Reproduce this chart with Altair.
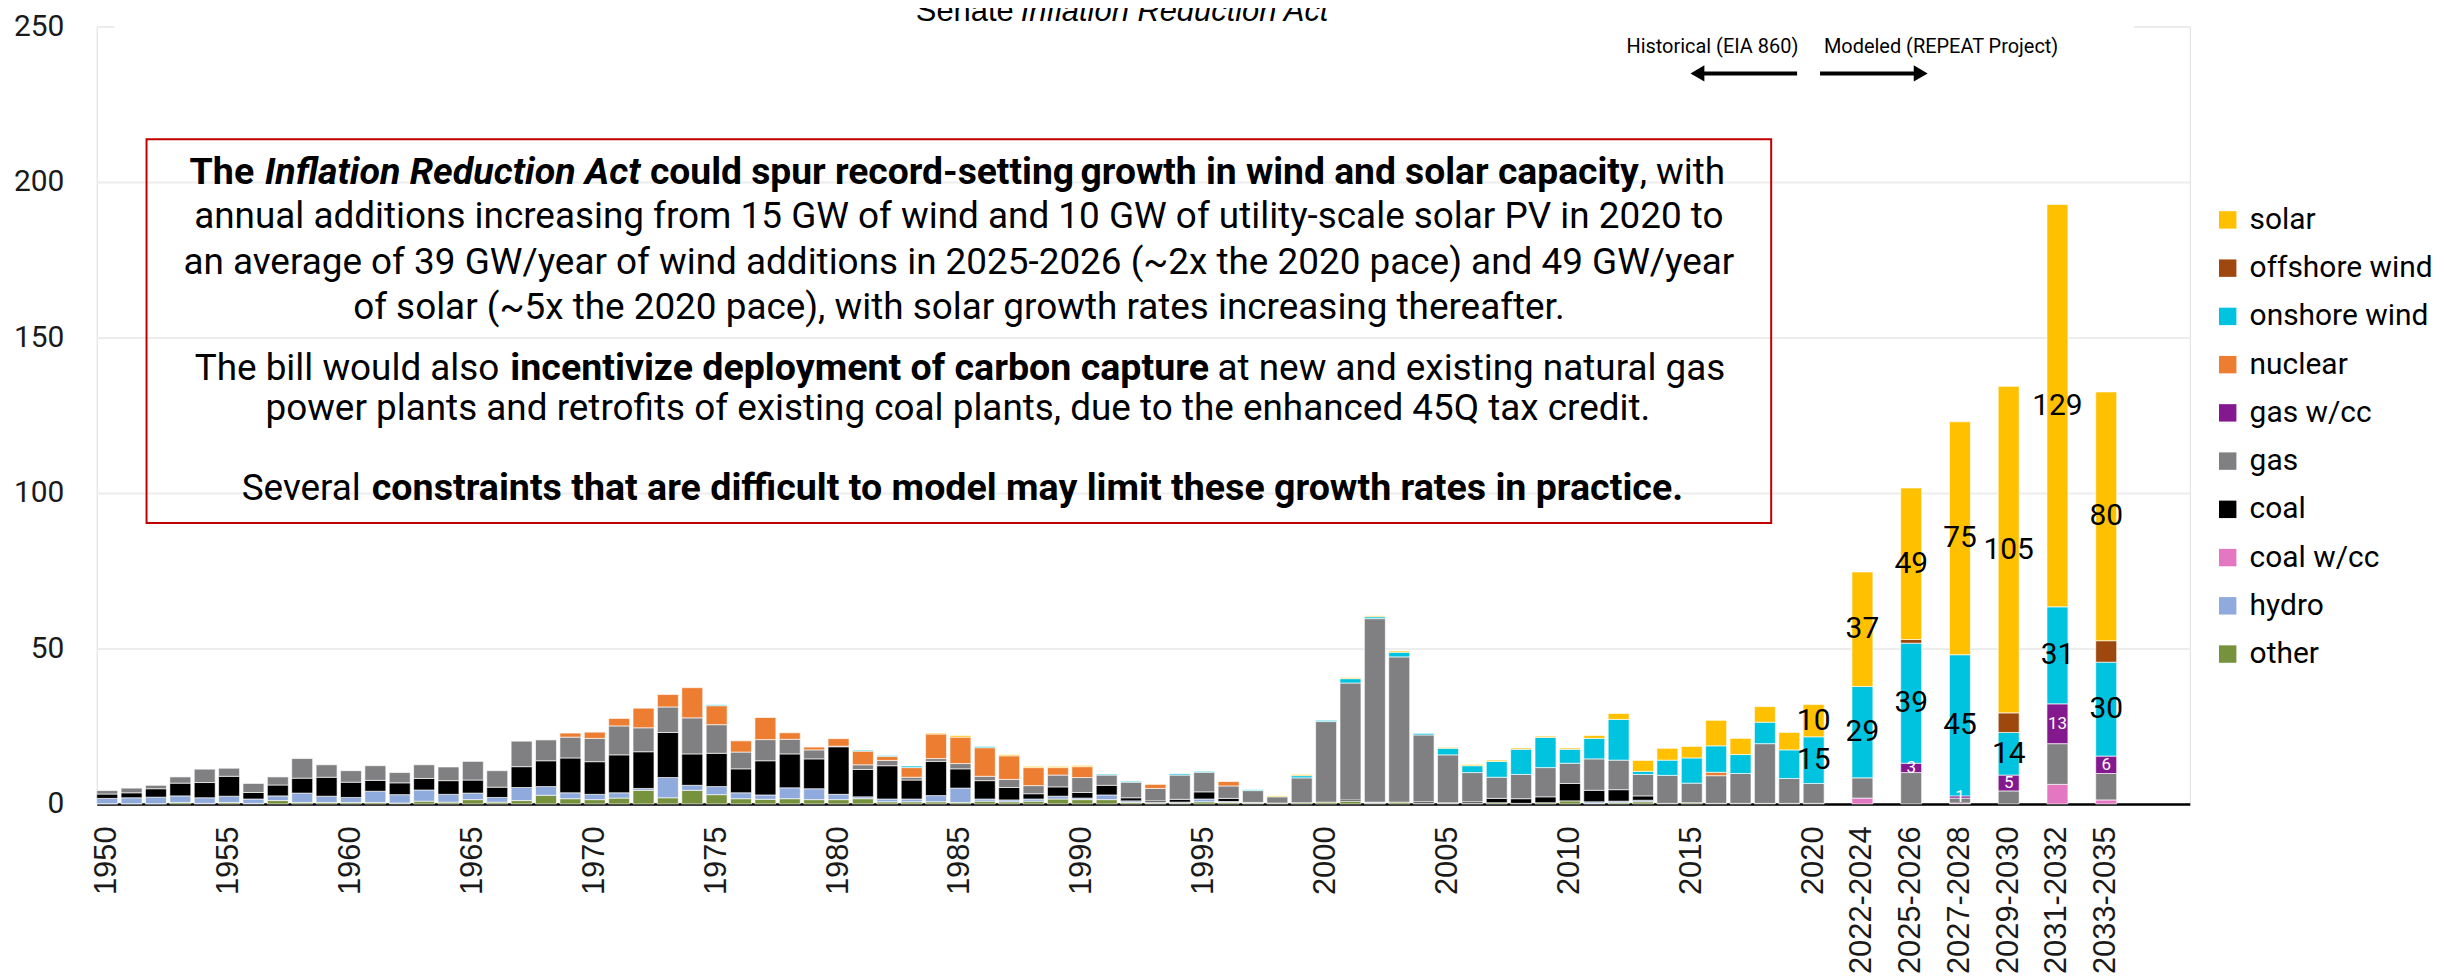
import altair as alt
import pandas as pd

# ---------------- data (GW of capacity added) ----------------
hist_years = [str(y) for y in range(1950, 2021)]
periods = ["2022-2024", "2025-2026", "2027-2028", "2029-2030", "2031-2032", "2033-2035"]

other_hist = [0.1, 0.1, 0.1, 0.5, 0.2, 0.5, 0.2, 1.1, 0.5, 0.5,
              0.5, 0.5, 0.3, 0.9, 0.6, 1.4, 0.6, 1.1, 2.8, 1.7,
              1.4, 1.9, 4.4, 2.0, 4.4, 3.0, 1.7, 1.5, 1.7, 1.4,
              1.4, 1.7, 0.7, 0.7, 0.7, 0.5, 0.9, 0.7, 0.9, 1.6,
              1.4, 1.4, 0.5, 0.3, 0.3, 0.7, 0.5, 0.3, 0.3, 0.4,
              0.6, 0.8, 0.3, 0.6, 0.2, 0.2, 0.2, 0.4, 0.2, 0.4,
              1.0, 0.2, 0.4, 0.7, 0.2, 0.4, 0.2, 0.2, 0.2, 0.2,
              0.2]
hydro_hist = [1.7, 1.9, 2.1, 2.1, 1.8, 2.0, 1.4, 1.5, 3.0, 2.0,
              1.6, 3.6, 2.7, 3.6, 2.5, 2.1, 1.5, 4.2, 2.8, 1.9,
              1.7, 1.7, 0.6, 6.5, 1.6, 2.6, 1.9, 1.4, 3.5, 3.5,
              1.7, 0.6, 0.9, 0.9, 2.0, 4.6, 0.7, 0.6, 0.7, 0.9,
              0.5, 1.5, 0.5, 0.2, 0.3, 0.9, 0.3, 0.2, 0, 0,
              0, 0, 0.3, 0, 0, 0, 0, 0, 0, 0,
              0, 0.5, 0.5, 0.5, 0, 0, 0, 0, 0, 0,
              0]
coal_hist = [1.4, 1.6, 2.7, 4.1, 4.9, 6.4, 2.1, 3.5, 4.8, 6.1,
             4.9, 3.5, 3.8, 3.7, 4.4, 4.2, 3.3, 6.7, 8.3, 11.2,
             10.5, 12.2, 11.8, 14.5, 10.1, 10.7, 7.7, 11.0, 10.9, 9.6,
             15.3, 8.8, 10.7, 6.1, 11.0, 6.2, 5.9, 4.0, 1.7, 3.0,
             1.8, 3.1, 1.0, 0.5, 0.9, 2.3, 1.0, 0, 0, 0,
             0, 0.5, 0, 0, 0.5, 0.2, 0.5, 1.4, 1.5, 1.9,
             5.6, 3.7, 3.7, 1.4, 0, 0, 0, 0, 0, 0,
             0]
gas_hist = [1.1, 1.5, 1.1, 2.0, 4.3, 2.6, 2.9, 2.6, 6.3, 4.0,
            3.7, 4.7, 3.3, 4.4, 4.4, 6.0, 5.3, 8.2, 6.7, 6.7,
            7.5, 9.3, 7.7, 8.2, 11.6, 9.2, 5.4, 6.8, 4.7, 2.9,
            0.2, 1.5, 1.7, 0.9, 0.9, 1.7, 1.4, 2.6, 2.6, 3.8,
            4.8, 3.3, 5.0, 4.0, 7.8, 6.3, 4.0, 3.8, 2.0, 8.0,
            25.9, 37.6, 59.0, 46.7, 21.5, 15.4, 9.4, 6.8, 7.8, 9.4,
            6.5, 10.1, 9.5, 6.9, 9.0, 6.3, 8.9, 9.6, 19.2, 8.0,
            6.4]
nuclear_hist = [0, 0, 0, 0, 0, 0, 0, 0, 0, 0,
                0, 0, 0, 0, 0, 0, 0, 0, 0, 1.3,
                2.0, 2.4, 6.3, 4.0, 9.7, 6.1, 3.6, 7.1, 2.1, 0.9,
                2.4, 4.4, 1.3, 3.1, 7.9, 8.5, 9.2, 7.6, 5.8, 2.4,
                3.5, 0, 0, 1.3, 0, 0, 1.4, 0, 0, 0,
                0, 0, 0, 0, 0, 0, 0, 0, 0, 0,
                0, 0, 0, 0, 0, 0, 1.1, 0, 0, 0,
                0]
onshore_hist = [0, 0, 0, 0, 0, 0, 0, 0, 0, 0,
                0, 0, 0, 0, 0, 0, 0, 0, 0, 0,
                0, 0, 0, 0, 0, 0.3, 0, 0, 0, 0,
                0, 0.3, 0.3, 0.5, 0, 0, 0.4, 0, 0, 0,
                0, 0.3, 0.3, 0, 0.4, 0.3, 0, 0.3, 0, 0.7,
                0.4, 1.4, 0.6, 1.5, 0.5, 2.1, 2.2, 5.1, 8.1, 9.7,
                4.5, 6.6, 13.1, 1.0, 4.9, 8.1, 8.5, 6.1, 6.9, 9.2,
                15.0]
solar_hist = [0, 0, 0, 0, 0, 0, 0, 0, 0, 0,
              0, 0, 0, 0, 0, 0, 0, 0, 0, 0,
              0, 0, 0, 0, 0, 0, 0, 0, 0, 0,
              0, 0, 0, 0, 0.3, 0.5, 0, 0.4, 0.4, 0.4,
              0.4, 0, 0, 0, 0, 0, 0, 0, 0.3, 0.4,
              0, 0.3, 0.3, 0.4, 0, 0.3, 0.4, 0.4, 0.4, 0.4,
              0.4, 0.9, 1.9, 3.5, 3.8, 3.7, 8.2, 5.2, 5.0, 5.6,
              10.4]

coalcc_mod = [1.9, 0, 0.3, 0, 6.3, 1.3]
gas_mod = [6.5, 10.1, 1.6, 4.2, 13.1, 8.5]
gascc_mod = [0, 3.0, 0.7, 5.1, 12.8, 5.6]
onshore_mod = [29.4, 38.6, 45.4, 13.7, 31.2, 30.2]
offshore_mod = [0, 1.2, 0, 6.3, 0, 6.9]
solar_mod = [36.8, 48.7, 74.9, 105.0, 129.4, 80.0]

zeros_h = [0] * len(hist_years)
zeros_m = [0] * len(periods)

series = {
    "other": other_hist + zeros_m,
    "hydro": hydro_hist + zeros_m,
    "coal w/cc": zeros_h + coalcc_mod,
    "coal": coal_hist + zeros_m,
    "gas": gas_hist + gas_mod,
    "gas w/cc": zeros_h + gascc_mod,
    "nuclear": nuclear_hist + zeros_m,
    "onshore wind": onshore_hist + onshore_mod,
    "offshore wind": zeros_h + offshore_mod,
    "solar": solar_hist + solar_mod,
}
stack_order = ["other", "hydro", "coal w/cc", "coal", "gas", "gas w/cc",
               "nuclear", "onshore wind", "offshore wind", "solar"]
legend_order = stack_order[::-1]
legend_colors = ["#FFC000", "#9E480E", "#00C4DF", "#ED7D31", "#84198F",
                 "#808083", "#000000", "#E377C2", "#8FAADC", "#76923C"]

categories = hist_years + periods

# x slots: modeled periods sit every second slot, with trailing empty slots
slots = list(hist_years)
for i, p in enumerate(periods):
    slots += ["_g%d" % i, p]
slots += ["_t1", "_t2", "_t3"]
tick_labels = [str(y) for y in range(1950, 2021, 5)] + periods

rows = []
for ci, cat in enumerate(categories):
    for oi, t in enumerate(stack_order):
        v = series[t][ci]
        if v > 0:
            rows.append({"slot": cat, "tech": t, "value": v, "order": oi})
df = pd.DataFrame(rows)

big_rows, small_rows = [], []
for cat in ["2020"] + periods:
    ci = categories.index(cat)
    cum = 0.0
    for t in stack_order:
        v = series[t][ci]
        if v > 0:
            mid = cum + v / 2
            if t in ("solar", "onshore wind"):
                big_rows.append({"slot": cat, "mid": mid, "txt": str(int(v + 0.5))})
            elif t == "gas w/cc" and v > 0.5:
                small_rows.append({"slot": cat, "mid": mid, "txt": str(int(v + 0.5))})
        cum += v
big_df = pd.DataFrame(big_rows)
small_df = pd.DataFrame(small_rows)

# ---------------- encodings ----------------
x_enc = alt.X("slot:N",
              scale=alt.Scale(domain=slots, paddingInner=0.14, paddingOuter=0),
              axis=alt.Axis(values=tick_labels, title=None, labelAngle=-90,
                            labelFont="Liberation Sans", labelFontSize=31,
                            labelColor="#1A1A1A", ticks=False, tickSize=0,
                            labelPadding=22, domainColor="#000000", domainWidth=2.5,
                            grid=False))
y_scale = alt.Scale(domain=[0, 250], nice=False)
y_axis = alt.Axis(values=[0, 50, 100, 150, 200, 250], title=None, grid=True,
                  gridColor="#EDEDED", gridWidth=2, domain=False, ticks=False,
                  tickSize=0, labelPadding=33, labelFont="Roboto", labelFontSize=30,
                  labelColor="#1A1A1A")

bars = alt.Chart(df).mark_bar(stroke="#FFFFFF", strokeWidth=0.8, strokeOpacity=0.8).encode(
    x=x_enc,
    y=alt.Y("value:Q", stack="zero", scale=y_scale, axis=y_axis),
    color=alt.Color("tech:N",
                    scale=alt.Scale(domain=legend_order, range=legend_colors),
                    legend=alt.Legend(title=None, orient="none", legendX=2123, legendY=179,
                                      symbolType="square", symbolSize=306,
                                      symbolStrokeWidth=0, labelFont="Roboto",
                                      labelFontSize=30, labelColor="#000000",
                                      labelLimit=400, rowPadding=18.4, labelOffset=7,
                                      padding=0)),
    order=alt.Order("order:Q", sort="ascending"),
)

big_labels = alt.Chart(big_df).mark_text(font="Roboto", fontSize=30, color="#000000",
                                          baseline="middle", align="center").encode(
    x=x_enc, y=alt.Y("mid:Q", scale=y_scale, axis=y_axis, stack=None), text="txt:N")
small_labels = alt.Chart(small_df).mark_text(font="Roboto", fontSize=17, color="#FFFFFF",
                                              baseline="middle", align="center").encode(
    x=x_enc, y=alt.Y("mid:Q", scale=y_scale, axis=y_axis, stack=None), text="txt:N")

one = pd.DataFrame({"k": [0]})

# white cover behind the top title
cover = alt.Chart(one).mark_rect(fill="#FFFFFF").encode(
    x=alt.value(18), x2=alt.value(2044), y=alt.value(-17), y2=alt.value(8))

REG = 37
BOLD = 37.7
BOLD1 = 37.35


def txt(s, px, py, size=REG, weight="normal", style="normal", align="center",
        font="Roboto"):
    return alt.Chart(pd.DataFrame({"t": [s]})).mark_text(
        font=font, fontSize=size, fontWeight=weight, fontStyle=style, align=align,
        baseline="alphabetic", color="#000000").encode(
        text="t:N", x=alt.value(px), y=alt.value(py))


annotations = [
    txt("Senate", 920, -6, size=31, align="right", font="Liberation Sans"),
    txt("Inflation Reduction Act", 927, -6, size=31, style="italic", align="left",
        font="Liberation Sans"),
    txt("Historical (EIA 860)", 1621, 27, size=20),
    txt("Modeled (REPEAT Project)", 1850.5, 27, size=20),
    # text box, line 1 (segments anchored at their junctions)
    txt("The", 158, 157.7, size=BOLD, weight="bold", align="right"),
    txt("Inflation Reduction Act", 168.5, 157.7, size=BOLD, weight="bold",
        style="italic", align="left"),
    txt("could spur record-setting", 555, 157.7, size=BOLD1, weight="bold", align="left"),
    txt("growth in wind and solar capacity", 1547, 157.7, size=BOLD1, weight="bold",
        align="right"),
    txt(", with", 1548, 157.7, align="left"),
    txt("annual additions increasing from 15 GW of wind and 10 GW of utility-scale solar PV in 2020 to",
        865, 202.3),
    txt("an average of 39 GW/year of wind additions in 2025-2026 (~2x the 2020 pace) and 49 GW/year",
        865, 248.3),
    txt("of solar (~5x the 2020 pace), with solar growth rates increasing thereafter.",
        865, 293.3),
    txt("The bill would also", 404, 354.3, align="right"),
    txt("incentivize deployment of carbon capture", 415, 354.3, size=BOLD,
        weight="bold", align="left"),
    txt("at new and existing natural gas", 1634, 354.3, align="right"),
    txt("power plants and retrofits of existing coal plants, due to the enhanced 45Q tax credit.",
        864, 395),
    txt("Several", 265, 475, align="right"),
    txt("constraints that are difficult to model may limit these growth rates in practice.",
        276, 475, size=BOLD, weight="bold", align="left"),
]

box = alt.Chart(one).mark_rect(fillOpacity=0, stroke="#C00000", strokeWidth=2).encode(
    x=alt.value(50), x2=alt.value(1680), y=alt.value(113), y2=alt.value(498))

arrow_l = alt.Chart(one).mark_rule(color="#000000", strokeWidth=4).encode(
    x=alt.value(1606), x2=alt.value(1706), y=alt.value(47))
arrow_r = alt.Chart(one).mark_rule(color="#000000", strokeWidth=4).encode(
    x=alt.value(1729), x2=alt.value(1830), y=alt.value(47))
head_l = alt.Chart(one).mark_point(shape="triangle-left", filled=True, size=260,
                                   color="#000000", opacity=1).encode(
    x=alt.value(1606), y=alt.value(47))
head_r = alt.Chart(one).mark_point(shape="triangle-right", filled=True, size=260,
                                   color="#000000", opacity=1).encode(
    x=alt.value(1830), y=alt.value(47))

chart = alt.layer(cover, bars, big_labels, small_labels, box, arrow_l, arrow_r,
                  head_l, head_r, *annotations).properties(
    width=2100, height=780,
    padding={"left": 89, "top": 17, "right": 248, "bottom": 175},
    autosize=alt.AutoSizeParams(type="none"),
    background="#FFFFFF",
).configure_view(strokeWidth=0, stroke="transparent").configure(font="Roboto")

chart.save("out.html", embed_options={"renderer": "svg", "actions": False})
